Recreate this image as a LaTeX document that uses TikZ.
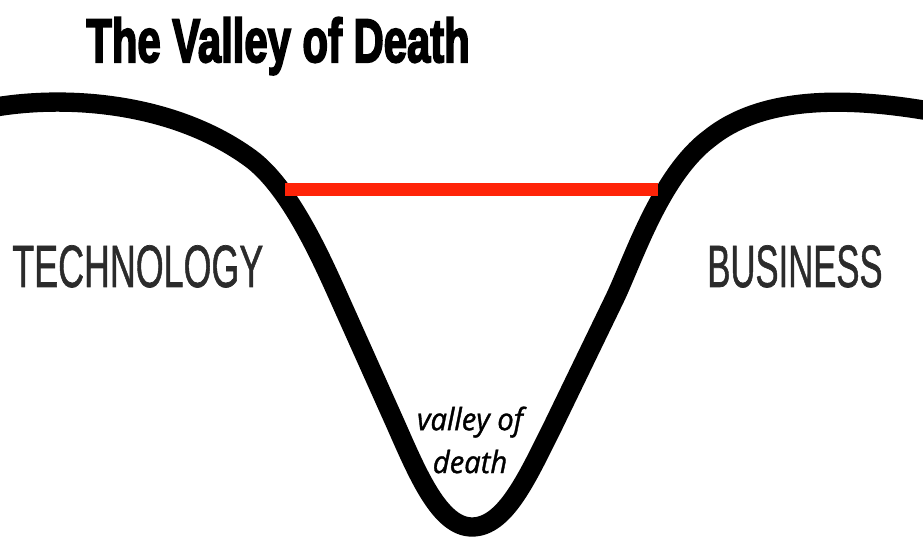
\documentclass[tikz,border=0pt]{standalone}
\usepackage{fontspec}
\usepackage{graphicx}
\setmainfont{Liberation Sans}
\newfontfamily\titlefont{Liberation Sans Bold}[FakeBold=3.5]
\newfontfamily\sidefont{Liberation Sans}[FakeBold=1.2]
\newfontfamily\labelfont{Open Sans Italic}[FakeBold=1.2]
\definecolor{deathred}{HTML}{FF2408}
\definecolor{darkgrey}{HTML}{2B2B2B}

\begin{document}
\begin{tikzpicture}[x=0.02cm,y=-0.02cm,
  valley/.style={line width=11pt,black,line cap=round,line join=round},
  side/.style={anchor=base west,inner sep=0pt,text=darkgrey,font=\sidefont\fontsize{34}{34}\selectfont}]
\useasboundingbox (0,0) rectangle (923,540);
% the curve from technology down into the valley and up to business
\coordinate (techedge) at (-10,108);
\coordinate (bottom) at (472,527);
\coordinate (bizedge) at (935,112);
\draw[valley] (techedge) .. controls (60,95) and (170,100) .. (250,158)
  .. controls (290,187) and (322,260) .. (340,300) -- (396,425)
  .. controls (418,475) and (440,527) .. (bottom)
  .. controls (505,527) and (527,478) .. (552,428) -- (614,300)
  .. controls (633,261) and (660,175) .. (710,138)
  .. controls (760,98) and (840,95) .. (bizedge);
\coordinate (gapL) at (285,190);
\coordinate (gapR) at (658,190);
\draw[deathred,line width=7.4pt] (gapL)--(gapR);
\node[anchor=base west,inner sep=0pt,font=\titlefont\fontsize{35}{35}\selectfont] (title) at (86,62) {\scalebox{0.68}[1]{The Valley of Death}};
\node[side] (tech) at (12,287) {\scalebox{0.6}[1]{TECHNOLOGY}};
\node[side] (biz) at (707,287) {\scalebox{0.58}[1]{BUSINESS}};
\node[inner sep=0pt,align=center,font=\labelfont\fontsize{17.5}{24.4}\selectfont] (vod) at (470,440) {\scalebox{0.95}[1]{valley of}\\\scalebox{0.95}[1]{death}};
\end{tikzpicture}
\end{document}
